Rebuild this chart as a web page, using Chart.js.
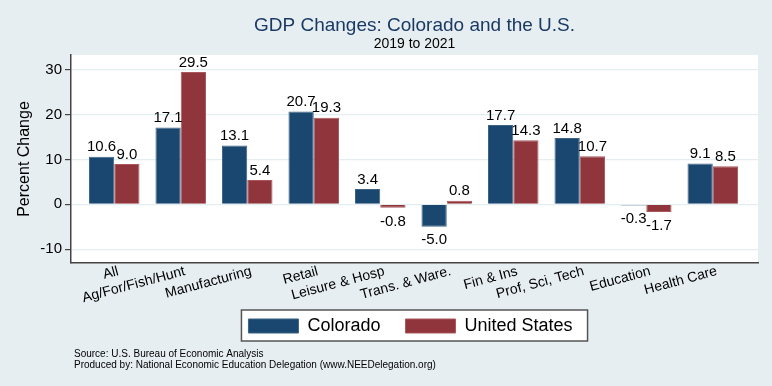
<!DOCTYPE html>
<html>
<head>
<meta charset="utf-8">
<script src="https://cdn.jsdelivr.net/npm/chart.js@4/dist/chart.umd.min.js"></script>
<style>
  html, body { margin: 0; padding: 0; background: #e7eef1; }
  #wrap { width: 772px; height: 386px; }
</style>
</head>
<body>
<div id="wrap"><canvas id="c" width="772" height="386"></canvas></div>
<script>
// categories and values (percent change 2019 -> 2021)
const industries = ['All', 'Ag/For/Fish/Hunt', 'Manufacturing', 'Retail', 'Leisure & Hosp',
  'Trans. & Ware.', 'Fin & Ins', 'Prof, Sci, Tech', 'Education', 'Health Care'];
const colorado = [10.6, 17.1, 13.1, 20.7, 3.4, -5.0, 17.7, 14.8, -0.3, 9.1];
const unitedStates = [9.0, 29.5, 5.4, 19.3, -0.8, 0.8, 14.3, 10.7, -1.7, 8.5];
const yTicks = [-10, 0, 10, 20, 30];

const FONT = 'Liberation Sans, Arial, sans-serif';
const BG = '#e7eef1';
const LEGEND_TOP = 292;

const toPoints = (arr) => arr.map((v, i) => ({ x: i, y: v }));

// background, plot area, legend box, notes
const backdrop = {
  id: 'backdrop',
  afterLayout(chart) {
    // pin the legend just under the rotated labels
    const lg = chart.legend;
    const h = lg.height;
    lg.top = LEGEND_TOP;
    lg.bottom = LEGEND_TOP + h;
    lg.left -= 4;
    lg.right -= 4;
  },
  beforeDraw(chart) {
    const { ctx, chartArea: a } = chart;
    ctx.save();
    ctx.fillStyle = BG;
    ctx.fillRect(0, 0, chart.width, chart.height);
    ctx.fillStyle = '#ffffff';
    ctx.fillRect(a.left, a.top, a.right - a.left, a.bottom - a.top);

    const boxes = chart.legend.legendHitBoxes;
    if (boxes && boxes.length) {
      const first = boxes[0], last = boxes[boxes.length - 1];
      const l = first.left - 7, r = last.left + last.width + 15;
      const t = first.top - 7, b = first.top + 24;
      ctx.fillStyle = '#ffffff';
      ctx.fillRect(l, t, r - l, b - t);
      ctx.strokeStyle = '#555555';
      ctx.lineWidth = 1.5;
      ctx.strokeRect(l, t, r - l, b - t);
    }

    ctx.fillStyle = '#000000';
    ctx.font = '10px ' + FONT;
    ctx.textAlign = 'left';
    ctx.textBaseline = 'alphabetic';
    ctx.fillText('Source: U.S. Bureau of Economic Analysis', 74, 357);
    ctx.fillText('Produced by: National Economic Education Delegation (www.NEEDelegation.org)', 74, 368);
    ctx.restore();
  }
};

// numbers on the bars
const barLabels = {
  id: 'barLabels',
  afterDatasetsDraw(chart) {
    const { ctx } = chart;
    ctx.save();
    ctx.font = '15px ' + FONT;
    ctx.fillStyle = '#000000';
    ctx.textAlign = 'center';
    chart.data.datasets.forEach((ds, di) => {
      chart.getDatasetMeta(di).data.forEach((bar, i) => {
        const v = ds.data[i].y;
        const txt = v.toFixed(1);
        if (v >= 0) {
          ctx.textBaseline = 'bottom';
          ctx.fillText(txt, bar.x, bar.y - 2);
        } else {
          ctx.textBaseline = 'top';
          ctx.fillText(txt, bar.x, bar.y + 6);
        }
      });
    });
    ctx.restore();
  }
};

new Chart(document.getElementById('c'), {
  type: 'bar',
  data: {
    datasets: [
      { label: 'Colorado', data: toPoints(colorado), backgroundColor: '#1a476f', borderColor: '#3d6384', borderWidth: 1 },
      { label: 'United States', data: toPoints(unitedStates), backgroundColor: '#90353b', borderColor: '#a9595e', borderWidth: 1 }
    ]
  },
  plugins: [backdrop, barLabels],
  options: {
    responsive: false,
    animation: false,
    devicePixelRatio: 1,
    layout: { autoPadding: false, padding: { left: 0, right: 14, top: 0, bottom: 20 } },
    categoryPercentage: 0.76,
    barPercentage: 1.0,
    plugins: {
      title: {
        display: true,
        fullSize: false,
        text: 'GDP Changes: Colorado and the U.S.',
        color: '#1a3a64',
        font: { family: FONT, size: 19, weight: 'normal', lineHeight: 1.0 },
        padding: { top: 16.5, bottom: 0 }
      },
      subtitle: {
        display: true,
        fullSize: false,
        text: '2019 to 2021',
        color: '#000000',
        font: { family: FONT, size: 14, weight: 'normal', lineHeight: 1.2 },
        padding: { top: 0, bottom: 2.7 }
      },
      legend: {
        display: true,
        position: 'bottom',
        fullSize: false,
        labels: {
          boxWidth: 50,
          boxHeight: 14,
          padding: 25,
          color: '#000000',
          font: { family: FONT, size: 18 }
        }
      },
      tooltip: { enabled: false }
    },
    scales: {
      x: {
        type: 'linear',
        offset: false,
        min: -0.65,
        max: 9.68,
        afterFit(scale) { scale.height = 50; },
        grid: { display: true, drawOnChartArea: false, drawTicks: false },
        border: { display: true, color: '#444444', width: 1.5 },
        ticks: {
          stepSize: 1,
          includeBounds: false,
          autoSkip: false,
          minRotation: 15,
          maxRotation: 15,
          padding: 0,
          labelOffset: 4,
          color: '#000000',
          font: { family: FONT, size: 14 },
          callback: (v) => industries[v]
        }
      },
      y: {
        min: -13.1,
        max: 33.3,
        afterFit(scale) { scale.width = 71; },
        afterBuildTicks(scale) { scale.ticks = yTicks.map(v => ({ value: v })); },
        grid: { color: '#e4eef0', lineWidth: 1.2, tickColor: '#444444', tickLength: 6 },
        border: { display: true, color: '#444444', width: 1.5 },
        ticks: {
          padding: 3,
          color: '#000000',
          font: { family: FONT, size: 15 }
        },
        title: {
          display: true,
          text: 'Percent Change',
          color: '#000000',
          font: { family: FONT, size: 16 },
          padding: { top: 15, bottom: 0 }
        }
      }
    }
  }
});
</script>
</body>
</html>
